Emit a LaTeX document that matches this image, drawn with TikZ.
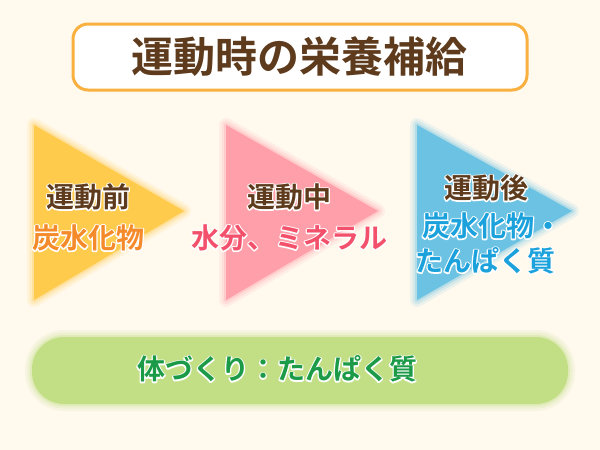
\documentclass[tikz,border=0pt]{standalone}
\usepackage{fontspec}
\usepackage{xcolor}
\usepackage{tikz}
\usetikzlibrary{%
backgrounds,
positioning}
\newfontfamily\jpfont{Noto Sans CJK JP}[UprightFont=* Bold, BoldFont=* Bold]
\newfontfamily\jprim{Noto Sans CJK JP}[UprightFont=* Bold, BoldFont=* Bold, FakeBold=9]
\definecolor{bgcol}{HTML}{FFF9EE}
\definecolor{titleborder}{HTML}{F9B03F}
\definecolor{browncol}{HTML}{5E3B1C}
\definecolor{yellowcol}{HTML}{FFCB4C}
\definecolor{orangetext}{HTML}{F58A2A}
\definecolor{pinkcol}{HTML}{FF9FA9}
\definecolor{pinktext}{HTML}{F2506B}
\definecolor{bluecol}{HTML}{6CC2E2}
\definecolor{bluetext}{HTML}{1BA1DB}
\definecolor{greencol}{HTML}{C3DF86}
\definecolor{greentext}{HTML}{1B9A47}
\tikzset{
  phase/.style={font=\fontsize{28}{30}\selectfont, inner sep=0pt},
  food/.style={font=\fontsize{28}{30}\selectfont, inner sep=0pt},
}
% white rim round a text: emboldened white copy behind, coloured copy on top
\newcommand{\rimmed}[2]{%
  \makebox[0pt][l]{\jprim\color{white}#2}%
  {\jpfont\color{#1}#2}}
\newcommand{\softfill}[2]{% color, path
  \foreach \w/\op in {14/0.12,9/0.18,4/0.3}
    \draw [#1, line width=\w pt, line join=round, opacity=\op] #2;
  \fill [#1] #2;
}
\begin{document}
\begin{tikzpicture}[x=1pt,y=-1pt,line join=bevel,]
  \fill [bgcol] (0,0) rectangle (600,450);
  \useasboundingbox (0,0) rectangle (600,450);
%%
  % Node: title
  \draw [titleborder, line width=3pt, fill=white, rounded corners=15pt] (73,24) rectangle (527,90);
  \node (title) at (299,57) {\jpfont\fontsize{42}{44}\selectfont\color{browncol}運動時の栄養補給};
  % Shape: arrows
  \softfill{yellowcol}{(34,125) -- (184,211) -- (34,300) -- cycle}
  \softfill{pinkcol}{(226,125) -- (378,211) -- (226,300) -- cycle}
  \softfill{bluecol}{(417,125) -- (572,211) -- (417,300) -- cycle}
  % Shape: green band
  \softfill{greencol}{[rounded corners=32pt] (32,337) rectangle (568,404)}
  % Node: before
  \node [phase] (before) at (88,197) {\rimmed{browncol}{運動前}};
  \node [food, below=14pt of before] (carbo) {\rimmed{orangetext}{炭水化物}};
  % Node: during
  \node [phase] (during) at (289,197) {\rimmed{browncol}{運動中}};
  \node [food, below=14pt of during] (water) {\rimmed{pinktext}{水分、ミネラル}};
  % Node: after
  \node [phase] (after) at (486,188) {\rimmed{browncol}{運動後}};
  \node [food, below=11pt of after, xshift=6pt] (carboAfter) {\rimmed{bluetext}{炭水化物・}};
  \node [food, below=8pt of carboAfter, xshift=-7pt] (protein) {\rimmed{bluetext}{たんぱく質}};
  % Node: body
  \node [food] (body) at (277,369) {\rimmed{greentext}{体づくり：たんぱく質}};
%
\end{tikzpicture}
\end{document}
